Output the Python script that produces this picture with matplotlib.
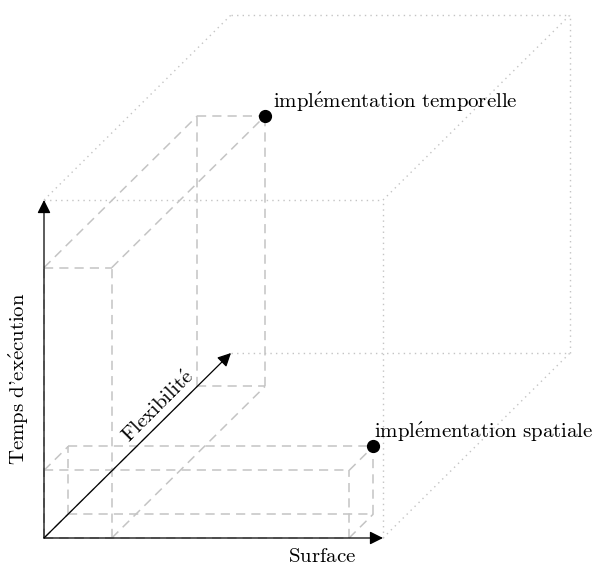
import numpy as np
import matplotlib.pyplot as plt
from matplotlib.patches import FancyArrowPatch

plt.rcParams['mathtext.fontset'] = 'cm'

# 3D box sizes (surface, temps, flexibilite), unit cube = full range
cube = (1.0, 1.0, 1.0)
box_temporelle = (0.2, 0.8, 0.82)
box_spatiale = (0.9, 0.2, 0.13)
point_labels = [r"$\mathrm{impl\'ementation\ temporelle}$",
                r"$\mathrm{impl\'ementation\ spatiale}$"]
axis_labels = [r"$\mathrm{Surface}$", r"$\mathrm{Temps\ d\text{'}ex\'ecution}$",
               r"$\mathrm{Flexibilit\'e}$"]

# oblique projection onto the page (pixels)
ORIG = np.array([44.0, 538.0])
EX = np.array([339.0, 0.0])
EY = np.array([0.0, -338.0])
EZ = np.array([187.0, -185.0])


def proj(x, y, z):
    p = ORIG + x * EX + y * EY + z * EZ
    return p[0], p[1]


def box_edges(a, b, c):
    corners = [(x, y, z) for x in (0, a) for y in (0, b) for z in (0, c)]
    edges = []
    for i, p in enumerate(corners):
        for q in corners[i + 1:]:
            if sum(u != v for u, v in zip(p, q)) == 1:
                edges.append((p, q))
    return edges


def draw_edge(ax, p, q, **kw):
    x0, y0 = proj(*p)
    x1, y1 = proj(*q)
    ax.plot([x0, x1], [y0, y1], **kw)


fig = plt.figure(figsize=(5.95, 5.65), dpi=100)
ax = fig.add_axes([0, 0, 1, 1])
ax.set_xlim(0, 595)
ax.set_ylim(565, 0)
ax.axis('off')

dotted = dict(color='#c4c4c4', lw=1.0, linestyle=(0, (1, 3)))
dashed = dict(color='#c4c4c4', lw=1.1, linestyle=(0, (6, 4)))

# outer cube, hidden back-left edge and axis edges left out
a, b, c = cube
for p, q in box_edges(a, b, c):
    on_axis = sum(v != 0 for v in p) == 0 and sum(v != 0 for v in q) == 1
    back_left = p[0] == 0 and q[0] == 0 and p[2] == c and q[2] == c and p[1] != q[1]
    if on_axis or back_left:
        continue
    draw_edge(ax, p, q, **dotted)

# dashed boxes and points
label_dx = [8, 1]
for box, lab, dx in zip([box_temporelle, box_spatiale], point_labels, label_dx):
    for p, q in box_edges(*box):
        draw_edge(ax, p, q, **dashed)
    px, py = proj(*box)
    ax.plot(px, py, 'o', color='black', ms=8.5, zorder=5)
    ax.text(px + dx, py - 8, lab, fontsize=15, ha='left', va='baseline')

# axes with arrows
for tip in [(1, 0, 0), (0, 1, 0), (0, 0, 1)]:
    arr = FancyArrowPatch(proj(0, 0, 0), proj(*tip), arrowstyle='-|>',
                          mutation_scale=20, color='black', lw=0.9,
                          shrinkA=0, shrinkB=0, zorder=4)
    ax.add_patch(arr)

sx, sy = proj(0.82, 0, 0)
ax.text(sx, sy + 8, axis_labels[0], fontsize=15, ha='center', va='top')
tx, ty = proj(0, 0.5, 0)
ax.text(tx - 25, ty + 10, axis_labels[1], fontsize=15, ha='center', va='center',
        rotation=90)
fx, fy = proj(0, 0, 0.6)
ax.text(fx + 2, fy - 21, axis_labels[2], fontsize=15, ha='center', va='center',
        rotation=45)

fig.savefig('out.png', dpi=100)
